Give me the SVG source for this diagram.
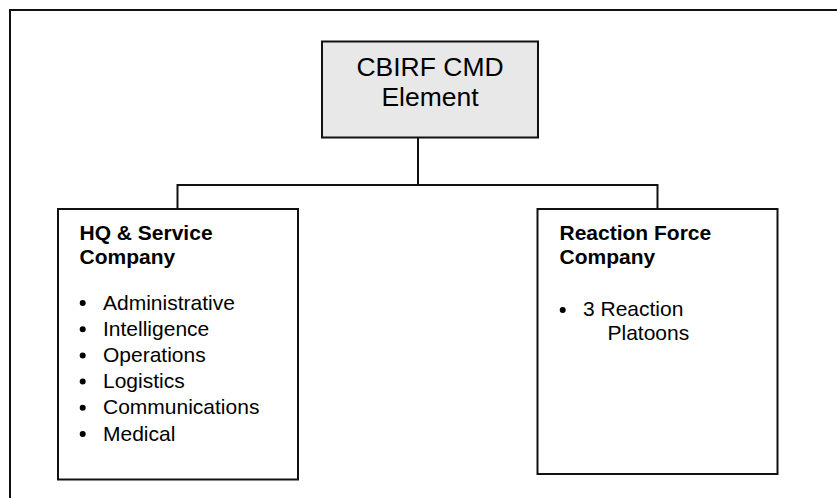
<svg xmlns="http://www.w3.org/2000/svg" width="837" height="498" viewBox="0 0 837 498">
  <style>
    .box { fill: #ffffff; stroke: #111111; stroke-width: 2; }
    .top { fill: #e8e8e8; stroke: #111111; stroke-width: 2; }
    .conn { fill: none; stroke: #111111; stroke-width: 2; }
    .title { font-family: "Liberation Sans", Arial, sans-serif; font-size: 26.5px; fill: #000; text-anchor: middle; }
    .head { font-family: "Liberation Sans", Arial, sans-serif; font-size: 21px; font-weight: bold; fill: #000; }
    .item { font-family: "Liberation Sans", Arial, sans-serif; font-size: 21px; fill: #000; }
    .dot { fill: #000; }
  </style>
  <rect x="0" y="0" width="837" height="498" fill="#ffffff"/>
  <rect x="10" y="10" width="840" height="500" fill="none" stroke="#111111" stroke-width="2"/>

  <g id="connectors">
    <path class="conn" d="M418 137 V185"/>
    <path class="conn" d="M177.5 209 V185 H657.5 V209"/>
  </g>

  <g id="cbirf-cmd">
    <rect class="top" x="322" y="41.5" width="216" height="96"/>
    <text class="title" x="430" y="76">CBIRF CMD</text>
    <text class="title" x="430" y="106">Element</text>
  </g>

  <g id="hq-service">
    <rect class="box" x="58" y="209" width="240" height="270.5"/>
    <text class="head" x="79.5" y="240">HQ &amp; Service</text>
    <text class="head" x="79.5" y="264">Company</text>
    <circle class="dot" cx="82.7" cy="303" r="3"/>
    <text class="item" x="103" y="309.5">Administrative</text>
    <circle class="dot" cx="82.7" cy="329.2" r="3"/>
    <text class="item" x="103" y="335.7">Intelligence</text>
    <circle class="dot" cx="82.7" cy="355.4" r="3"/>
    <text class="item" x="103" y="361.9">Operations</text>
    <circle class="dot" cx="82.7" cy="381.6" r="3"/>
    <text class="item" x="103" y="388.1">Logistics</text>
    <circle class="dot" cx="82.7" cy="407.8" r="3"/>
    <text class="item" x="103" y="414.3">Communications</text>
    <circle class="dot" cx="82.7" cy="434" r="3"/>
    <text class="item" x="103" y="440.5">Medical</text>
  </g>

  <g id="reaction-force">
    <rect class="box" x="537.5" y="209" width="240" height="265"/>
    <text class="head" x="559.5" y="240">Reaction Force</text>
    <text class="head" x="559.5" y="264">Company</text>
    <circle class="dot" cx="562.7" cy="310" r="3"/>
    <text class="item" x="583" y="316">3 Reaction</text>
    <text class="item" x="607.5" y="339.5">Platoons</text>
  </g>
</svg>
